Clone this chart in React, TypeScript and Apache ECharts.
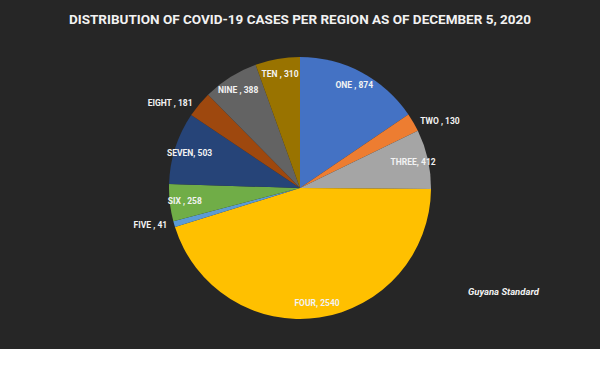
import React, { useEffect, useRef } from "react";
import * as echarts from "echarts";

const titleText = "DISTRIBUTION OF COVID-19 CASES PER REGION AS OF DECEMBER 5, 2020";
const sourceText = "Guyana Standard";
const categories = ["ONE", "TWO", "THREE", "FOUR", "FIVE", "SIX", "SEVEN", "EIGHT", "NINE", "TEN"];
const cases = [874, 130, 412, 2540, 41, 258, 503, 181, 388, 310];
const separators = [" , ", " , ", ", ", ", ", " , ", " , ", ", ", " , ", " , ", " , "];
const sliceColors = ["#4472C4", "#ED7D31", "#A5A5A5", "#FFC000", "#5B9BD5", "#70AD47", "#264478", "#9E480E", "#636363", "#997300"];
const outsideLabels = ["TWO", "FIVE", "EIGHT"];

const FONT = "Roboto, 'DejaVu Sans Condensed', sans-serif";

export default function App() {
  const ref = useRef<HTMLDivElement>(null);
  useEffect(() => {
    if (!ref.current) return;
    const chart = echarts.init(ref.current, null, { renderer: "svg" });
    const labelText = (i: number) => `${categories[i]}${separators[i]}${cases[i]}`;
    const mainData = categories.map((c, i) => ({
      name: c,
      value: cases[i],
      itemStyle: { color: sliceColors[i] },
      label: { show: outsideLabels.includes(c) },
    }));
    const overlayData = categories.map((c, i) => ({
      name: c,
      value: cases[i],
      label: { show: !outsideLabels.includes(c) },
    }));
    const labelStyle = {
      color: "#F2F2F2",
      fontSize: 8.5,
      fontWeight: "bold" as const,
      fontFamily: FONT,
    };
    chart.setOption({
      animation: false,
      backgroundColor: "#262626",
      title: {
        text: titleText,
        left: "center",
        top: 7,
        textStyle: { color: "#F2F2F2", fontSize: 13.5, fontWeight: "bold", fontFamily: FONT },
      },
      graphic: [
        {
          type: "text",
          left: 468,
          top: 286,
          style: { text: sourceText, fill: "#F2F2F2", fontSize: 9.5, fontStyle: "italic", fontWeight: "bold", fontFamily: FONT },
        },
      ],
      series: [
        {
          type: "pie",
          center: [300, 188],
          radius: [0, 131],
          startAngle: 90,
          clockwise: true,
          avoidLabelOverlap: false,
          data: mainData,
          label: {
            position: "outside",
            formatter: (p: any) => labelText(p.dataIndex),
            ...labelStyle,
          },
          labelLine: { show: false, length: 2, length2: 0 },
          itemStyle: { borderWidth: 0 },
          emphasis: { disabled: true },
        },
        {
          type: "pie",
          center: [300, 188],
          radius: [95, 131],
          startAngle: 90,
          clockwise: true,
          silent: true,
          avoidLabelOverlap: false,
          data: overlayData,
          itemStyle: { color: "rgba(0,0,0,0)", borderWidth: 0 },
          label: {
            position: "inside",
            formatter: (p: any) => labelText(p.dataIndex),
            ...labelStyle,
          },
          labelLine: { show: false },
          emphasis: { disabled: true },
        },
      ],
    });
    return () => chart.dispose();
  }, []);
  return (
    <div
      style={{
        position: "fixed",
        left: 0,
        top: 0,
        width: 600,
        height: 349,
        boxSizing: "border-box",
        border: "1px solid #7F7F7F",
        background: "#262626",
      }}
    >
      <div ref={ref} style={{ position: "absolute", left: -1, top: -1, width: 600, height: 349 }} />
    </div>
  );
}
